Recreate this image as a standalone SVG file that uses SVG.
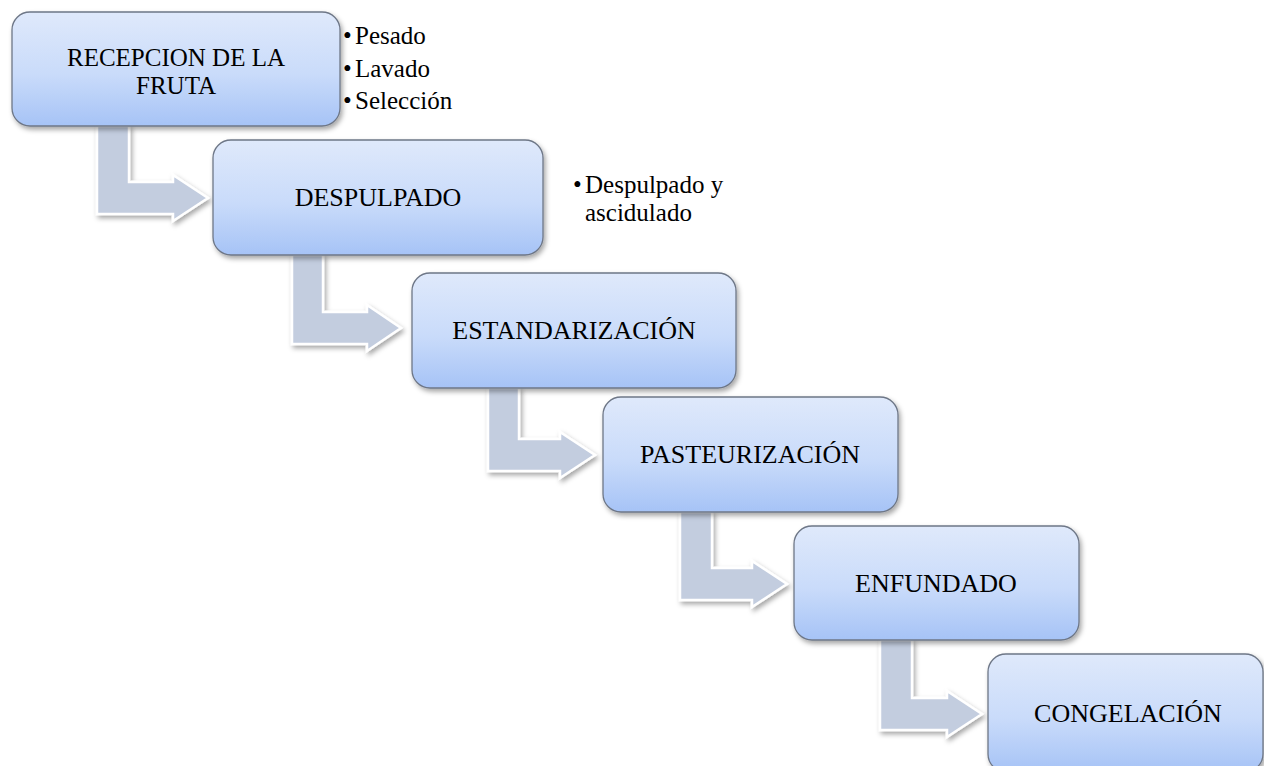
<svg xmlns="http://www.w3.org/2000/svg" width="1264" height="766" viewBox="0 0 1264 766">
<defs>
<linearGradient id="boxGrad" x1="0" y1="0" x2="0" y2="1">
<stop offset="0" stop-color="#dfe9fb"/>
<stop offset="0.55" stop-color="#c9dbfa"/>
<stop offset="1" stop-color="#a6c3f6"/>
</linearGradient>
<filter id="shadow" x="-10%" y="-10%" width="125%" height="130%">
<feDropShadow dx="2" dy="3" stdDeviation="2.5" flood-color="#000" flood-opacity="0.35"/>
</filter>
</defs>
<style>
.box{fill:url(#boxGrad);stroke:#6e7787;stroke-width:1.3;filter:url(#shadow)}
.arrow{fill:#c3cddf;stroke:#ffffff;stroke-width:2.5;stroke-linejoin:miter;filter:url(#shadow)}
.lbl{font-size:26px;fill:#000;text-anchor:middle}
.lbl2{font-size:25px;fill:#000;text-anchor:middle}
.note{font-size:25px;fill:#000}
</style>
<g id="connectors">
<polygon class="arrow" points="97,126 129,126 129,182 173,182 173,175 208,198 173,221 173,214 97,214"/>
<polygon class="arrow" points="292,255 323,255 323,312 367,312 367,305 401,328 367,351 367,344 292,344"/>
<polygon class="arrow" points="488,388 519,388 519,439 560,439 560,432 595,455 560,478 560,471 488,471"/>
<polygon class="arrow" points="680,512 712,512 712,568 752,568 752,561 787,584 752,607 752,600 680,600"/>
<polygon class="arrow" points="880,640 912,640 912,698 947,698 947,691 982,714 947,737 947,730 880,730"/>
</g>
<g font-family="'Liberation Serif', 'Times New Roman', serif">
<g id="node1">
<rect class="box" x="12" y="12" width="328" height="114" rx="18"/>
<text class="lbl2" x="176" y="66">RECEPCION DE LA</text>
<text class="lbl2" x="176" y="94">FRUTA</text>
</g>
<g id="node1-notes">
<text class="note" y="44"><tspan x="343">•</tspan><tspan x="355">Pesado</tspan></text>
<text class="note" y="77"><tspan x="343">•</tspan><tspan x="355">Lavado</tspan></text>
<text class="note" y="109"><tspan x="343">•</tspan><tspan x="355">Selección</tspan></text>
</g>
<g id="node2">
<rect class="box" x="213" y="140" width="330" height="115" rx="18"/>
<text class="lbl" x="378" y="206">DESPULPADO</text>
</g>
<g id="node2-notes">
<text class="note" y="193"><tspan x="573">•</tspan><tspan x="585">Despulpado y</tspan></text>
<text class="note" x="585" y="221">ascidulado</text>
</g>
<g id="node3">
<rect class="box" x="412" y="273" width="324" height="115" rx="18"/>
<text class="lbl" x="574" y="339">ESTANDARIZACIÓN</text>
</g>
<g id="node4">
<rect class="box" x="603" y="397" width="295" height="115" rx="18"/>
<text class="lbl" x="750" y="463">PASTEURIZACIÓN</text>
</g>
<g id="node5">
<rect class="box" x="794" y="526" width="285" height="114" rx="18"/>
<text class="lbl" x="936" y="592">ENFUNDADO</text>
</g>
<g id="node6">
<rect class="box" x="988" y="654" width="275" height="118" rx="18"/>
<text class="lbl" x="1128" y="722">CONGELACIÓN</text>
</g>
</g>
</svg>
